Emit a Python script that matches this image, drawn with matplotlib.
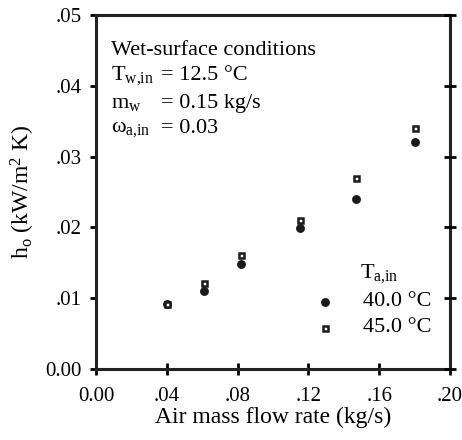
import matplotlib
matplotlib.use("Agg")
import matplotlib.pyplot as plt

plt.rcParams['font.family'] = ['Liberation Serif', 'DejaVu Serif']
plt.rcParams['mathtext.fontset'] = 'custom'
plt.rcParams['mathtext.rm'] = 'Liberation Serif'
plt.rcParams['mathtext.it'] = 'Liberation Serif'

flow = [0.040, 0.061, 0.082, 0.115, 0.147, 0.180]
h_40 = [0.0092, 0.0110, 0.0149, 0.0199, 0.0240, 0.0320]
h_45 = [0.0092, 0.0121, 0.0161, 0.0211, 0.0270, 0.0340]
xticks = [0.00, 0.04, 0.08, 0.12, 0.16, 0.20]
xticklabels = ['0.00', '.04', '.08', '.12', '.16', '.20']
yticks = [0.00, 0.01, 0.02, 0.03, 0.04, 0.05]
yticklabels = ['0.00', '.01', '.02', '.03', '.04', '.05']

C = '#1a1a1a'
circ = dict(marker='o', linestyle='none', color=C, markersize=6.4, markeredgewidth=0)
sq = dict(marker='s', linestyle='none', markerfacecolor='white', markeredgecolor=C,
          markersize=3.6, markeredgewidth=1.8)

fig = plt.figure(figsize=(4.62, 4.40), dpi=100)
ax = fig.add_axes([96/462, 1-369/440, 354/462, 354/440])
ax.set_xlim(0, 0.20)
ax.set_ylim(0, 0.05)

ax.plot(flow, h_40, zorder=3, **circ)
ax.plot(flow, h_45, zorder=4, **sq)

for s in ax.spines.values():
    s.set_linewidth(2.2)
    s.set_color('#222222')

ax.set_xticks(xticks)
ax.set_xticklabels(xticklabels)
ax.set_yticks(yticks)
ax.set_yticklabels(yticklabels)
ax.tick_params(axis='x', direction='inout', length=8, width=2.0, pad=9, labelsize=15)
ax.tick_params(axis='y', direction='out', length=4, width=2.0, pad=6, labelsize=15)

ax2 = ax.twinx()
ax2.set_ylim(0, 0.05)
ax2.set_yticks(yticks)
ax2.tick_params(axis='y', direction='inout', length=8, width=2.0, labelright=False)
for s in ax2.spines.values():
    s.set_visible(False)

ax.set_xlabel('Air mass flow rate (kg/s)', fontsize=17)
ax.set_ylabel(r'h$_\mathrm{o}$ (kW/m$^\mathrm{2}$ K)', fontsize=17)
ax.xaxis.set_label_coords(0.5, -0.106)
ax.yaxis.set_label_coords(-0.167, 0.5)

fs = 16
lx = 0.042
ex = 0.185
ax.text(lx, 0.899, 'Wet-surface conditions', transform=ax.transAxes, fontsize=fs, va='center')
ax.text(lx, 0.829, r'T$_\mathrm{w{,}in}$', transform=ax.transAxes, fontsize=fs, va='center')
ax.text(lx, 0.751, r'm$_\mathrm{w}$', transform=ax.transAxes, fontsize=fs, va='center')
ax.text(lx, 0.679, r'$\mathrm{\omega}_\mathrm{a{,}in}$', transform=ax.transAxes, fontsize=fs, va='center')
ax.text(ex, 0.829, '= 12.5 °C', transform=ax.transAxes, fontsize=fs, va='center')
ax.text(ex, 0.751, '= 0.15 kg/s', transform=ax.transAxes, fontsize=fs, va='center')
ax.text(ex, 0.679, '= 0.03', transform=ax.transAxes, fontsize=fs, va='center')

# legend
ax.text(0.745, 0.27, r'T$_\mathrm{a{,}in}$', transform=ax.transAxes, fontsize=fs, va='center')
ax.plot([0.648], [0.19], transform=ax.transAxes, clip_on=False, **circ)
ax.plot([0.648], [0.117], transform=ax.transAxes, clip_on=False, **sq)
ax.text(0.755, 0.19, '40.0 °C', transform=ax.transAxes, fontsize=fs, va='center')
ax.text(0.755, 0.117, '45.0 °C', transform=ax.transAxes, fontsize=fs, va='center')

fig.savefig('out.png', dpi=100)
